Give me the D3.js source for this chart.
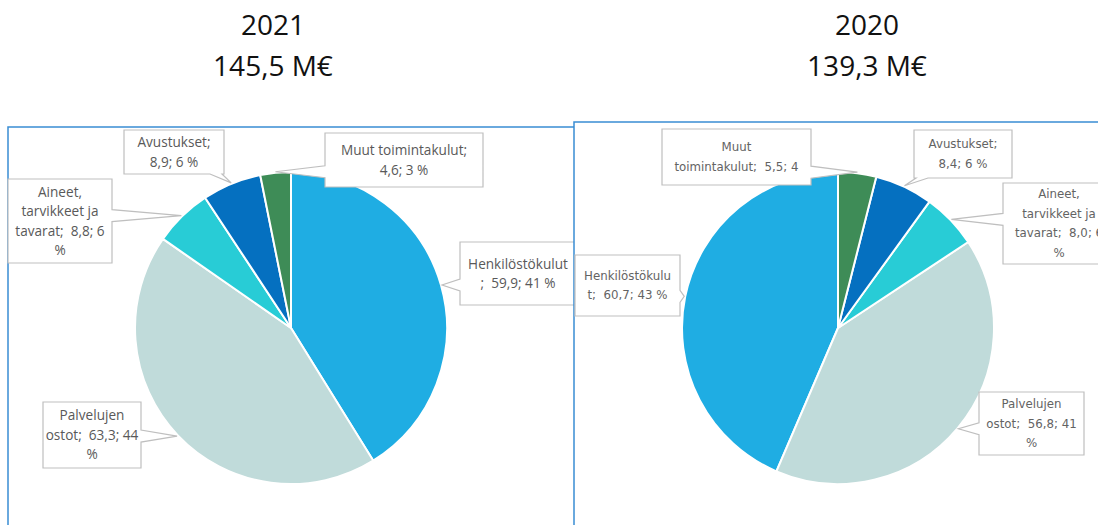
<!DOCTYPE html>
<html>
<head>
<meta charset="utf-8">
<script src="https://cdn.jsdelivr.net/npm/d3@7"></script>
<style>
  body { margin: 0; background: #fff; }
  svg { display: block; }
  text { white-space: pre; }
</style>
</head>
<body>
<svg width="1098" height="525"></svg>
<script>
/* ---- data ---- */
var categories = ["Henkilöstökulut", "Palvelujen ostot", "Aineet, tarvikkeet ja tavarat", "Avustukset", "Muut toimintakulut"];
var values2021 = [59.9, 63.3, 8.8, 8.9, 4.6];
var values2020 = [60.7, 56.8, 8.0, 8.4, 5.5];
var titles2021 = ["2021", "145,5 M€"];
var titles2020 = ["2020", "139,3 M€"];
// data labels as wrapped in the original
var labels2021 = [["Henkilöstökulut", ";  59,9; 41 %"],
                  ["Palvelujen", "ostot;  63,3; 44", "%"],
                  ["Aineet,", "tarvikkeet ja", "tavarat;  8,8; 6", "%"],
                  ["Avustukset;", "8,9; 6 %"],
                  ["Muut toimintakulut;", "4,6; 3 %"]];
var labels2020 = [["Henkilöstökulu", "t;  60,7; 43 %"],
                  ["Palvelujen", "ostot;  56,8; 41", "%"],
                  ["Aineet,", "tarvikkeet ja", "tavarat;  8,0; 6", "%"],
                  ["Avustukset;", "8,4; 6 %"],
                  ["Muut", "toimintakulut;  5,5; 4"]];

/* ---- display settings ---- */
var colors = ["#1fade3", "#c0dbda", "#28ccd6", "#0570c0", "#3e8c57"];
var color = d3.scaleOrdinal().domain(categories).range(colors);

var panels = [
  {titles: titles2021, values: values2021, labels: labels2021,
   frame: {x: 8, y: 127, w: 567, h: 420}, titleX: 273,
   cx: 291, cy: 328, r: 156, dir: 1, font: "'Open Sans', sans-serif", fs: 13.6, tc: "#595959",
   boxes: [{x: 460, y: 242, w: 116, h: 63, side: "left"},
           {x: 43, y: 402, w: 98, h: 66, side: "right"},
           {x: 8, y: 179, w: 104, h: 84, side: "right"},
           {x: 124, y: 130, w: 100, h: 44, side: "bottom"},
           {x: 325, y: 133, w: 158, h: 54, side: "left"}]},
  {titles: titles2020, values: values2020, labels: labels2020,
   frame: {x: 574, y: 122, w: 540, h: 420}, titleX: 867,
   cx: 838, cy: 328, r: 156, dir: -1, font: "'DejaVu Sans', sans-serif", fs: 11.8, tc: "#636363",
   boxes: [{x: 575, y: 255, w: 105, h: 61, side: "right"},
           {x: 979, y: 392, w: 105, h: 63, side: "left"},
           {x: 1003, y: 183, w: 112, h: 81, side: "left"},
           {x: 914, y: 130, w: 98, h: 48, side: "bottom"},
           {x: 662, y: 129, w: 149, h: 56, side: "right"}]}
];

var svg = d3.select("svg");

function clamp(v, lo, hi) { return Math.max(lo, Math.min(hi, v)); }

// box with a wedge pointing at (ax, ay)
function calloutPath(b, ax, ay) {
  var x0 = b.x, y0 = b.y, x1 = b.x + b.w, y1 = b.y + b.h, hw = 6, t;
  var p = "M" + x0 + "," + y0;
  if (b.side == "top") { t = clamp(ax, x0 + hw + 2, x1 - hw - 2); p += "L" + (t - hw) + "," + y0 + "L" + ax + "," + ay + "L" + (t + hw) + "," + y0; }
  p += "L" + x1 + "," + y0;
  if (b.side == "right") { t = clamp(ay, y0 + hw + 2, y1 - hw - 2); p += "L" + x1 + "," + (t - hw) + "L" + ax + "," + ay + "L" + x1 + "," + (t + hw); }
  p += "L" + x1 + "," + y1;
  if (b.side == "bottom") { t = clamp(ax, x0 + hw + 2, x1 - hw - 2); p += "L" + (t + hw) + "," + y1 + "L" + ax + "," + ay + "L" + (t - hw) + "," + y1; }
  p += "L" + x0 + "," + y1;
  if (b.side == "left") { t = clamp(ay, y0 + hw + 2, y1 - hw - 2); p += "L" + x0 + "," + (t + hw) + "L" + ax + "," + ay + "L" + x0 + "," + (t - hw); }
  return p + "Z";
}

function drawPanel(pn) {
  var g = svg.append("g");

  // title
  g.selectAll("text.title")
    .data(pn.titles)
    .enter()
    .append("text")
    .attr("class", "title")
    .attr("x", pn.titleX)
    .attr("y", function(d, i) { return 35 + i * 41; })
    .attr("text-anchor", "middle")
    .attr("font-family", "'Open Sans', sans-serif")
    .attr("font-size", 28)
    .attr("fill", "#111")
    .text(function(d) { return d; });

  // frame
  g.append("rect")
    .attr("x", pn.frame.x).attr("y", pn.frame.y)
    .attr("width", pn.frame.w).attr("height", pn.frame.h)
    .attr("fill", "#fff")
    .attr("stroke", "#3a8dd3")
    .attr("stroke-width", 1.5);

  var pie = d3.pie().sort(null)
    .startAngle(0).endAngle(pn.dir * 2 * Math.PI)
    .value(function(d) { return d; });
  var arcs = pie(pn.values);
  var arc = d3.arc().innerRadius(0).outerRadius(pn.r);

  var pg = g.append("g").attr("transform", "translate(" + pn.cx + "," + pn.cy + ")");
  pg.selectAll("path")
    .data(arcs)
    .enter()
    .append("path")
    .attr("d", arc)
    .attr("fill", function(d, i) { return color(categories[i]); })
    .attr("stroke", "#fff")
    .attr("stroke-width", 2);

  // callouts
  arcs.forEach(function(a, i) {
    var b = pn.boxes[i];
    var mid = (a.startAngle + a.endAngle) / 2;
    var ax = pn.cx + (pn.r + 1) * Math.sin(mid);
    var ay = pn.cy - (pn.r + 1) * Math.cos(mid);
    g.append("path")
      .attr("d", calloutPath(b, ax, ay))
      .attr("fill", "#fff")
      .attr("stroke", "#bfbfbf")
      .attr("stroke-width", 1.2);
    var lines = pn.labels[i];
    var lh = 19.5;
    var y0 = b.y + b.h / 2 - (lines.length - 1) * lh / 2;
    g.append("text")
      .attr("font-family", pn.font)
      .attr("font-size", pn.fs)
      .attr("fill", pn.tc)
      .attr("text-anchor", "middle")
      .selectAll("tspan")
      .data(lines)
      .enter()
      .append("tspan")
      .attr("x", b.x + b.w / 2)
      .attr("y", function(d, j) { return y0 + j * lh; })
      .attr("dy", "0.35em")
      .text(function(d) { return d; });
  });
}

panels.forEach(drawPanel);
</script>
</body>
</html>
